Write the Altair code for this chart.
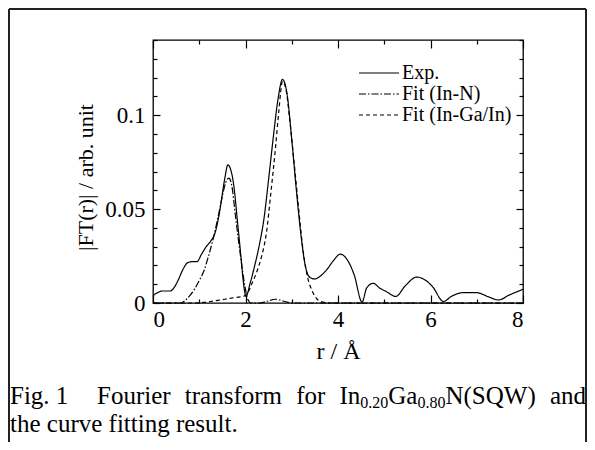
import altair as alt
import pandas as pd

# ---------------- data ----------------
series = ["Exp.", "Fit (In-N)", "Fit (In-Ga/In)"]

r_exp = [0, 0.1, 0.2, 0.37, 0.45, 0.55, 0.65, 0.75, 0.85, 0.95, 1.05, 1.15, 1.25,
         1.35, 1.45, 1.55, 1.62, 1.68, 1.75, 1.82, 1.9, 1.95, 2.01, 2.1, 2.2, 2.3,
         2.4, 2.5, 2.6, 2.7, 2.8, 2.9, 3.0, 3.1, 3.2, 3.3, 3.4, 3.5, 3.6, 3.75, 3.9,
         4.05, 4.2, 4.35, 4.52, 4.62, 4.76, 4.9, 5.05, 5.25, 5.45, 5.7, 5.9, 6.05,
         6.28, 6.45, 6.7, 7.0, 7.25, 7.47, 7.7, 8.0]
v_exp = [0.004, 0.0055, 0.0064, 0.0064, 0.008, 0.0125, 0.018, 0.0215, 0.022, 0.022,
         0.026, 0.03, 0.033, 0.038, 0.05, 0.066, 0.0735, 0.071, 0.062, 0.045, 0.025,
         0.012, 0.0035, 0.0105, 0.02, 0.031, 0.045, 0.066, 0.088, 0.108, 0.119, 0.111,
         0.087, 0.06, 0.036, 0.019, 0.0135, 0.0128, 0.014, 0.0175, 0.0225, 0.026,
         0.023, 0.015, 0.0005, 0.008, 0.0105, 0.008, 0.006, 0.0035, 0.009, 0.0138,
         0.012, 0.0085, 0.0008, 0.0035, 0.0055, 0.0055, 0.0033, 0.0016, 0.0042, 0.0073]

r_inn = [0, 0.6, 0.7, 0.8, 0.9, 1.0, 1.1, 1.2, 1.3, 1.4, 1.5, 1.57, 1.64, 1.7, 1.78,
         1.85, 1.92, 1.98, 2.05, 2.12, 2.3, 2.45, 2.65, 2.85, 3.0, 8.0]
v_inn = [0, 0, 0.0015, 0.004, 0.0075, 0.012, 0.017, 0.025, 0.034, 0.045, 0.057, 0.064,
         0.0665, 0.063, 0.047, 0.033, 0.02, 0.01, 0.002, 0, 0, 0.0008, 0.002, 0.0008,
         0, 0]

r_inga = [0, 0.9, 1.1, 1.3, 1.55, 1.8, 1.95, 2.05, 2.15, 2.25, 2.35, 2.45, 2.55, 2.65,
          2.72, 2.8, 2.88, 2.95, 3.05, 3.15, 3.25, 3.35, 3.45, 3.55, 3.7, 3.85, 8.0]
v_inga = [0, 0, 0.0003, 0.001, 0.002, 0.003, 0.0035, 0.0055, 0.011, 0.017, 0.025, 0.037,
          0.059, 0.083, 0.102, 0.118, 0.113, 0.099, 0.075, 0.05, 0.027, 0.013, 0.006,
          0.002, 0.0003, 0, 0]

x_major = [0, 2, 4, 6, 8]
x_minor = [1, 3, 5, 7]
y_major = [0, 0.05, 0.1]
y_minor = [0.01, 0.02, 0.03, 0.04, 0.06, 0.07, 0.08, 0.09, 0.11, 0.12, 0.13, 0.14]

x_title = "r / Å"
y_title = "|FT(r)| / arb. unit"

# caption: word groups separated by spaces; pieces starting with "_" are subscripts
caption_label = "Fig. 1"
caption_line1 = [["Fourier"], ["transform"], ["for"],
                 ["In", "_0.20", "Ga", "_0.80", "N(SQW)"], ["and"]]
caption_line2 = "the curve fitting result."

# ---------------- table ----------------
rows = []
for name, rr, vv in [(series[0], r_exp, v_exp), (series[1], r_inn, v_inn),
                     (series[2], r_inga, v_inga)]:
    for a, b in zip(rr, vv):
        rows.append({"r": a, "v": b, "s": name})
df = pd.DataFrame(rows)

# ---------------- layout ----------------
W, H = 370, 263
PADL, PADT = 145, 32
TOTW, TOTH = 579, 434
FONT = "Liberation Serif"
CAP_FS, SUB_FS = 25, 16
LINE1_Y, LINE2_Y = 404, 432
LINE1_X0, LINE1_X1 = 97, 586

# Times / Liberation Serif advance widths (per 1000 em) for caption layout
TW = {" ": 250, "F": 556, "i": 278, "g": 500, ".": 250, "1": 500, "o": 500,
      "u": 500, "r": 333, "e": 444, "t": 278, "a": 444, "n": 500, "s": 389,
      "f": 333, "m": 778, "I": 333, "0": 500, "2": 500, "G": 722, "8": 500,
      "N": 722, "(": 333, "S": 556, "Q": 722, "W": 944, ")": 333, "d": 500,
      "h": 500, "c": 444, "v": 500, "l": 278}


def text_w(s, fs):
    return sum(TW.get(c, 500) for c in s) / 1000.0 * fs


xs = alt.Scale(domain=[0, 8], nice=False, zero=False)
ys = alt.Scale(domain=[0, 0.14], nice=False)
dash_scale = alt.Scale(domain=series, range=[[1, 0], [7, 2, 1.5, 2], [4, 3]])

curves = alt.Chart(df).mark_line(strokeWidth=1.2, color="black",
                                 interpolate="monotone").encode(
    x=alt.X("r:Q", scale=xs, axis=alt.Axis(
        orient="bottom", values=x_major, ticks=False, domain=False, grid=False,
        labelFont=FONT, labelFontSize=23, labelColor="black", labelPadding=5,
        format="d", title=x_title, titleFont=FONT, titleFontSize=24,
        titleFontWeight="normal", titleColor="black", titlePadding=8)),
    y=alt.Y("v:Q", scale=ys, axis=alt.Axis(
        orient="left", values=y_major, ticks=False, domain=False, grid=False,
        labelFont=FONT, labelFontSize=23, labelColor="black", labelPadding=8,
        format="~g", title=y_title, titleFont=FONT, titleFontSize=22,
        titleFontWeight="normal", titleColor="black", titlePadding=7,
        titleY=137)),
    strokeDash=alt.StrokeDash("s:N", scale=dash_scale, legend=alt.Legend(
        title=None, orient="none", legendX=205, legendY=23, labelFont=FONT,
        labelFontSize=20, labelColor="black", symbolType="stroke",
        symbolSize=1600, symbolStrokeWidth=1.2, symbolStrokeColor="black",
        clipHeight=20, rowPadding=1, labelOffset=2, padding=0)),
    detail="s:N",
)


def tick_layer(xv, yv, xsize, ysize, xorient, yorient):
    return alt.Chart(df).mark_point(opacity=0, size=1).encode(
        x=alt.X("r:Q", scale=xs, axis=alt.Axis(
            orient=xorient, offset=-H, values=xv, tickSize=xsize, labels=False,
            domain=False, grid=False, title=None, tickColor="black",
            tickWidth=1.2)),
        y=alt.Y("v:Q", scale=ys, axis=alt.Axis(
            orient=yorient, offset=-W, values=yv, tickSize=ysize, labels=False,
            domain=False, grid=False, title=None, tickColor="black",
            tickWidth=1.2)),
    )


ticks = [
    tick_layer(x_major, y_major, 8, 7, "top", "right"),
    tick_layer(x_minor, y_minor, 4, 4, "top", "right"),
    tick_layer(x_major, y_major, 8, 7, "bottom", "left"),
    tick_layer(x_minor, y_minor, 4, 4, "bottom", "left"),
]

one = pd.DataFrame({"k": [0]})
frame_style = dict(color="#222", strokeWidth=2)
frame = [
    alt.Chart(one).mark_rule(**frame_style).encode(
        x=alt.value(-PADL + 1), y=alt.value(-PADT + 1), y2=alt.value(TOTH - PADT)),
    alt.Chart(one).mark_rule(**frame_style).encode(
        x=alt.value(-PADL + 1), x2=alt.value(TOTW - PADL - 1), y=alt.value(-PADT + 1)),
    alt.Chart(one).mark_rule(**frame_style).encode(
        x=alt.value(TOTW - PADL - 1), y=alt.value(-PADT + 1), y2=alt.value(TOTH - PADT)),
]


# caption placement (page pixels), line 1 justified between LINE1_X0 and LINE1_X1
def piece_w(p):
    return text_w(p[1:], SUB_FS) if p.startswith("_") else text_w(p, CAP_FS)


pieces = [(caption_label, 10, LINE1_Y, CAP_FS)]
natural = sum(piece_w(p) for g in caption_line1 for p in g)
gap = (LINE1_X1 - LINE1_X0 - natural) / (len(caption_line1) - 1)
xcur = LINE1_X0
for g in caption_line1:
    for p in g:
        if p.startswith("_"):
            pieces.append((p[1:], xcur, LINE1_Y + 4, SUB_FS))
        else:
            pieces.append((p, xcur, LINE1_Y, CAP_FS))
        xcur += piece_w(p)
    xcur += gap
pieces.append((caption_line2, 10, LINE2_Y, CAP_FS))

texts = []
for t, xp, yp, fs in pieces:
    texts.append(alt.Chart(one).mark_text(
        align="left", baseline="alphabetic", font=FONT, fontSize=fs,
        color="black").encode(
        x=alt.value(xp - 8 - PADL), y=alt.value(yp - 8 - PADT), text=alt.value(t)))

chart = alt.layer(curves, *ticks, *frame, *texts).resolve_axis(
    x="independent", y="independent").resolve_scale(
    x="shared", y="shared").properties(
    width=W, height=H,
    padding={"left": PADL, "top": PADT, "right": TOTW - PADL - W,
             "bottom": TOTH - PADT - H},
    autosize=alt.AutoSizeParams(type="none"),
).configure_view(stroke="black", strokeWidth=1.3)

chart.save("out.html", embed_options={"renderer": "svg", "actions": False})
